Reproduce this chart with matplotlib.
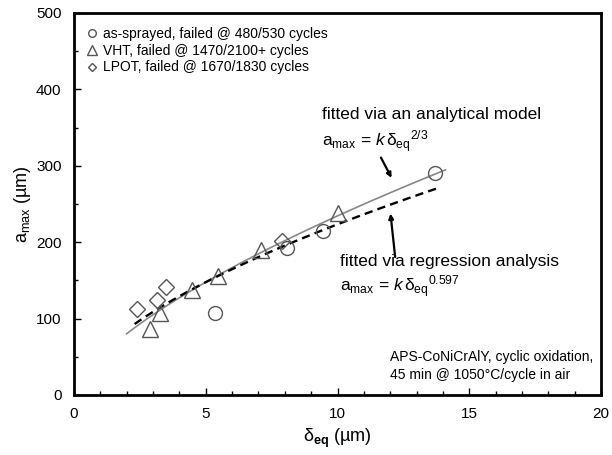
import numpy as np
import matplotlib
matplotlib.use("Agg")
import matplotlib.pyplot as plt
from matplotlib.ticker import MultipleLocator

plt.rcParams['font.family'] = ['Liberation Sans', 'DejaVu Sans']
plt.rcParams['mathtext.fontset'] = 'custom'
plt.rcParams['mathtext.rm'] = 'Liberation Sans'
plt.rcParams['mathtext.it'] = 'Liberation Sans:italic'
plt.rcParams['mathtext.bf'] = 'Liberation Sans:bold'

# data
sprayed_x = [5.35, 8.07, 9.46, 13.70]
sprayed_y = [107, 192, 215, 291]
vht_x = [2.88, 3.26, 4.47, 5.48, 7.10, 10.03]
vht_y = [87, 107, 138, 156, 190, 238]
lpot_x = [2.38, 3.14, 3.48, 7.88]
lpot_y = [112, 124, 141, 201]

k_model = 50.5      # a = k * d^(2/3)
k_regr = 56.5       # a = k * d^0.597
model_range = (2.0, 14.1)
regr_range = (2.3, 13.8)

fig = plt.figure(figsize=(6.12, 4.55), dpi=100)
ax = fig.add_axes([74 / 612, 60 / 455, 527 / 612, 382 / 455])

gray = '#555555'
ax.plot(sprayed_x, sprayed_y, 'o', ms=10, mfc='none', mec=gray, mew=1.0,
        label='as-sprayed, failed @ 480/530 cycles', zorder=3)
ax.plot(vht_x, vht_y, '^', ms=12, mfc='none', mec=gray, mew=1.0,
        label='VHT, failed @ 1470/2100+ cycles', zorder=3)
ax.plot(lpot_x, lpot_y, 'D', ms=8, mfc='none', mec=gray, mew=1.0,
        label='LPOT, failed @ 1670/1830 cycles', zorder=3)

xm = np.linspace(*model_range, 100)
ax.plot(xm, k_model * xm ** (2 / 3), '-', color='#888888', lw=1.2, zorder=2)
xr = np.linspace(*regr_range, 100)
ax.plot(xr, k_regr * xr ** 0.597, '--', color='black', lw=1.7, dashes=(3.5, 2.2), zorder=2)

leg = ax.legend(loc='upper left', frameon=False, fontsize=10, handlelength=0.6,
                handletextpad=0.5, labelspacing=0.2, borderaxespad=0.6,
                markerscale=0.55, bbox_to_anchor=(0.0, 1.0))

eq_model = r'a$_{\mathregular{max}}$ = $\mathit{k}\,\mathregular{δ}_{\mathregular{eq}}{}^{\mathit{2/3}}$'
eq_regr = r'a$_{\mathregular{max}}$ = $\mathit{k}\,\mathregular{δ}_{\mathregular{eq}}{}^{\mathit{0.597}}$'
ax.text(9.4, 367, 'fitted via an analytical model', fontsize=12.5, va='center')
ax.text(9.4, 332, eq_model, fontsize=12.5, va='center')
ax.annotate('', xy=(12.1, 281), xytext=(11.6, 314),
            arrowprops=dict(arrowstyle='-|>', color='black', lw=1.6, mutation_scale=7))
ax.text(10.1, 175, 'fitted via regression analysis', fontsize=12.5, va='center')
ax.text(10.1, 142, eq_regr, fontsize=12.5, va='center')
ax.annotate('', xy=(12.0, 241), xytext=(12.2, 177),
            arrowprops=dict(arrowstyle='-|>', color='black', lw=1.6, mutation_scale=7))

ax.text(12.0, 38, 'APS-CoNiCrAlY, cyclic oxidation,\n45 min @ 1050°C/cycle in air',
        fontsize=10, va='center', linespacing=1.35)

ax.set_xlim(0, 20)
ax.set_ylim(0, 500)
ax.xaxis.set_major_locator(MultipleLocator(5))
ax.xaxis.set_minor_locator(MultipleLocator(1))
ax.yaxis.set_major_locator(MultipleLocator(100))
ax.yaxis.set_minor_locator(MultipleLocator(50))
ax.tick_params(which='both', direction='in', top=False, right=False, labelsize=11,
               width=1.0, color='black')
ax.tick_params(which='major', length=5, pad=9)
ax.tick_params(which='minor', length=3)
for s in ax.spines.values():
    s.set_linewidth(2.0)

ax.set_xlabel(r'$\mathregular{δ}_{\mathbf{eq}}$ (µm)', fontsize=13, labelpad=4)
ax.set_ylabel(r'a$_{\mathregular{max}}$ (µm)', fontsize=13, labelpad=2)

fig.savefig('out.png', dpi=100)
